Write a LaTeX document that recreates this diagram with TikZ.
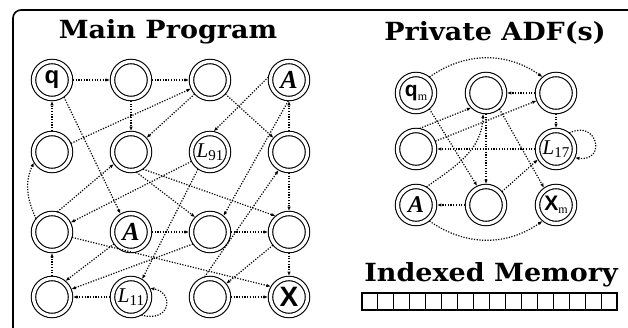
\documentclass[tikz,border=0pt]{standalone}
\usepackage{fontspec}
\setmainfont{Liberation Serif}
\newfontfamily\titlefont[FakeStretch=1.08]{DejaVu Serif}
\newfontfamily\labelfont{Liberation Sans}
\usetikzlibrary{arrows.meta,positioning}

\begin{document}
\begin{tikzpicture}[x=1pt,y=1pt,
  estado/.style={draw,circle,double,double distance=3.3pt,line width=1.1pt,minimum size=37pt,inner sep=0pt,outer sep=2.4pt},
  flecha/.style={line width=1.2pt,dash pattern=on 1.2pt off 1.5pt,-{Latex[open,length=4.5pt,width=3.5pt]}},
  titulo/.style={font=\titlefont\bfseries\fontsize{25}{25}\selectfont,inner sep=0pt},
  letra/.style={font=\labelfont\bfseries\fontsize{#1}{#1}\selectfont},
  node distance=79pt
  ]

  \useasboundingbox (0,0) rectangle (628,-328);
  \draw[line width=1.6pt,rounded corners=8pt] (13,-328) -- (13,-10) -- (628,-10);

  % titulos
  \node[titulo] (tmain) at (168,-32) {Main Program};
  \node[titulo] (tadf) at (495,-33) {Private ADF(s)};
  \node[titulo] (tmem) at (491,-275) {Indexed Memory};

  % programa principal
  \node[estado,letra=24] (q) at (52,-80) {q};
  \node[estado,right of=q] (m12) {};
  \node[estado,right of=m12] (m13) {};
  \node[estado,right of=m13,font=\fontsize{26}{26}\selectfont] (a1) {\textbf{\textit{A}}};

  \node[estado,below of=q,node distance=72pt] (m21) {};
  \node[estado,right of=m21] (m22) {};
  \node[estado,right of=m22,font=\fontsize{21}{21}\selectfont] (l91) {\textit{L}\raisebox{-3pt}{\fontsize{15}{15}\selectfont 91}};
  \node[estado,right of=l91] (m24) {};

  \node[estado,below of=m21,node distance=80pt] (m31) {};
  \node[estado,right of=m31,font=\fontsize{26}{26}\selectfont] (a2) {\textbf{\textit{A}}};
  \node[estado,right of=a2] (m33) {};
  \node[estado,right of=m33] (m34) {};

  \node[estado,below of=m31,node distance=65pt] (m41) {};
  \node[estado,right of=m41,font=\fontsize{21}{21}\selectfont] (l11) {\textit{L}\raisebox{-3pt}{\fontsize{15}{15}\selectfont 11}};
  \node[estado,right of=l11] (m43) {};
  \node[estado,right of=m43,letra=28] (x) {X};

  \draw[flecha] (q) -- (m12);
  \draw[flecha] (m12) -- (m13);
  \draw[flecha] (m21) -- (q);
  \draw[flecha] (m12) -- (m22);
  \draw[flecha] (m13) -- (m22);
  \draw[flecha] (m21) -- (m13);
  \draw[flecha] (a1.172) -- (l91.80);
  \draw[flecha] (m13) -- (m24);
  \draw[flecha] (m24) -- (a1);
  \draw[flecha] (a1.-92) -- (m33.50);
  \draw[flecha] (m43.105) -- (m24.240);
  \draw[flecha] (m31.140) to[out=115,in=245] (m21.210);
  \draw[flecha] (m31.75) -- (m22.215);
  \draw[flecha] (q.-55) -- (a2.120);
  \draw[flecha] (l91) -- (m31);
  \draw[flecha] (m22.-75) -- (m33.135);
  \draw[flecha] (m22.-55) -- (m34.130);
  \draw[flecha] (l91.235) -- (l11.58);
  \draw[flecha] (m24) -- (m34);
  \draw[flecha] (a2) -- (m33);
  \draw[flecha] (m33) -- (m34);
  \draw[flecha] (m31.-15) -- (x.150);
  \draw[flecha] (m41) -- (m31);
  \draw[flecha] (a2.215) -- (m41.50);
  \draw[flecha] (m33.215) -- (m41.22);
  \draw[flecha] (l11) -- (m41);
  \draw[flecha] (l11.-60) .. controls +(30,-8) and +(24,-4) .. (l11.25);
  \draw[flecha] (m34) -- (m43);
  \draw[flecha] (m43) -- (x);
  \draw[flecha] (m34) -- (x);

  % ADF privada
  \node[estado,letra=21] (qm) at (416,-93) {q\raisebox{-4pt}{\rmfamily\mdseries\fontsize{12}{12}\selectfont m}};
  \node[estado,right of=qm,node distance=70pt] (p12) {};
  \node[estado,right of=p12,node distance=70pt] (p13) {};
  \node[estado,below of=qm,node distance=56pt] (p21) {};
  \node[estado,right of=p21,node distance=140pt,font=\fontsize{21}{21}\selectfont] (l17) {\textit{L}\raisebox{-3pt}{\fontsize{15}{15}\selectfont 17}};
  \node[estado,below of=p21,node distance=56pt,font=\fontsize{24}{24}\selectfont] (pa) {\textbf{\textit{A}}};
  \node[estado,right of=pa,node distance=70pt] (p32) {};
  \node[estado,right of=p32,node distance=70pt,letra=21] (xm) {X\raisebox{-3pt}{\rmfamily\mdseries\fontsize{12}{12}\selectfont m}};

  \draw[flecha] (qm.50) to[bend left=35] (p13.130);
  \draw[flecha] (p13) -- (p12);
  \draw[flecha] (p21.80) -- (p12.225);
  \draw[flecha] (p21) -- (p13);
  \draw[flecha] (p13) -- (l17);
  \draw[flecha] (l17) -- (p21);
  \draw[flecha] (l17.50) .. controls +(28,14) and +(32,-4) .. (l17.-25);
  \draw[flecha] (qm.-50) -- (p32.115);
  \draw[flecha] (p12) -- (p32);
  \draw[flecha] (pa.60) to[out=35,in=-92] (p12.-98);
  \draw[flecha] (p12.-50) -- (xm.125);
  \draw[flecha] (p32.40) -- (l17.210);
  \draw[flecha] (p32) -- (pa);
  \draw[flecha] (pa.-50) to[bend right=35] (xm.-130);

  % memoria
  \foreach \i in {0,...,15}
    \draw[line width=1pt] (362+\i*15.94,-293) rectangle ++(15.94,-17);
  \draw[line width=1.3pt] (362,-293) rectangle (617,-310);

\end{tikzpicture}
\end{document}
